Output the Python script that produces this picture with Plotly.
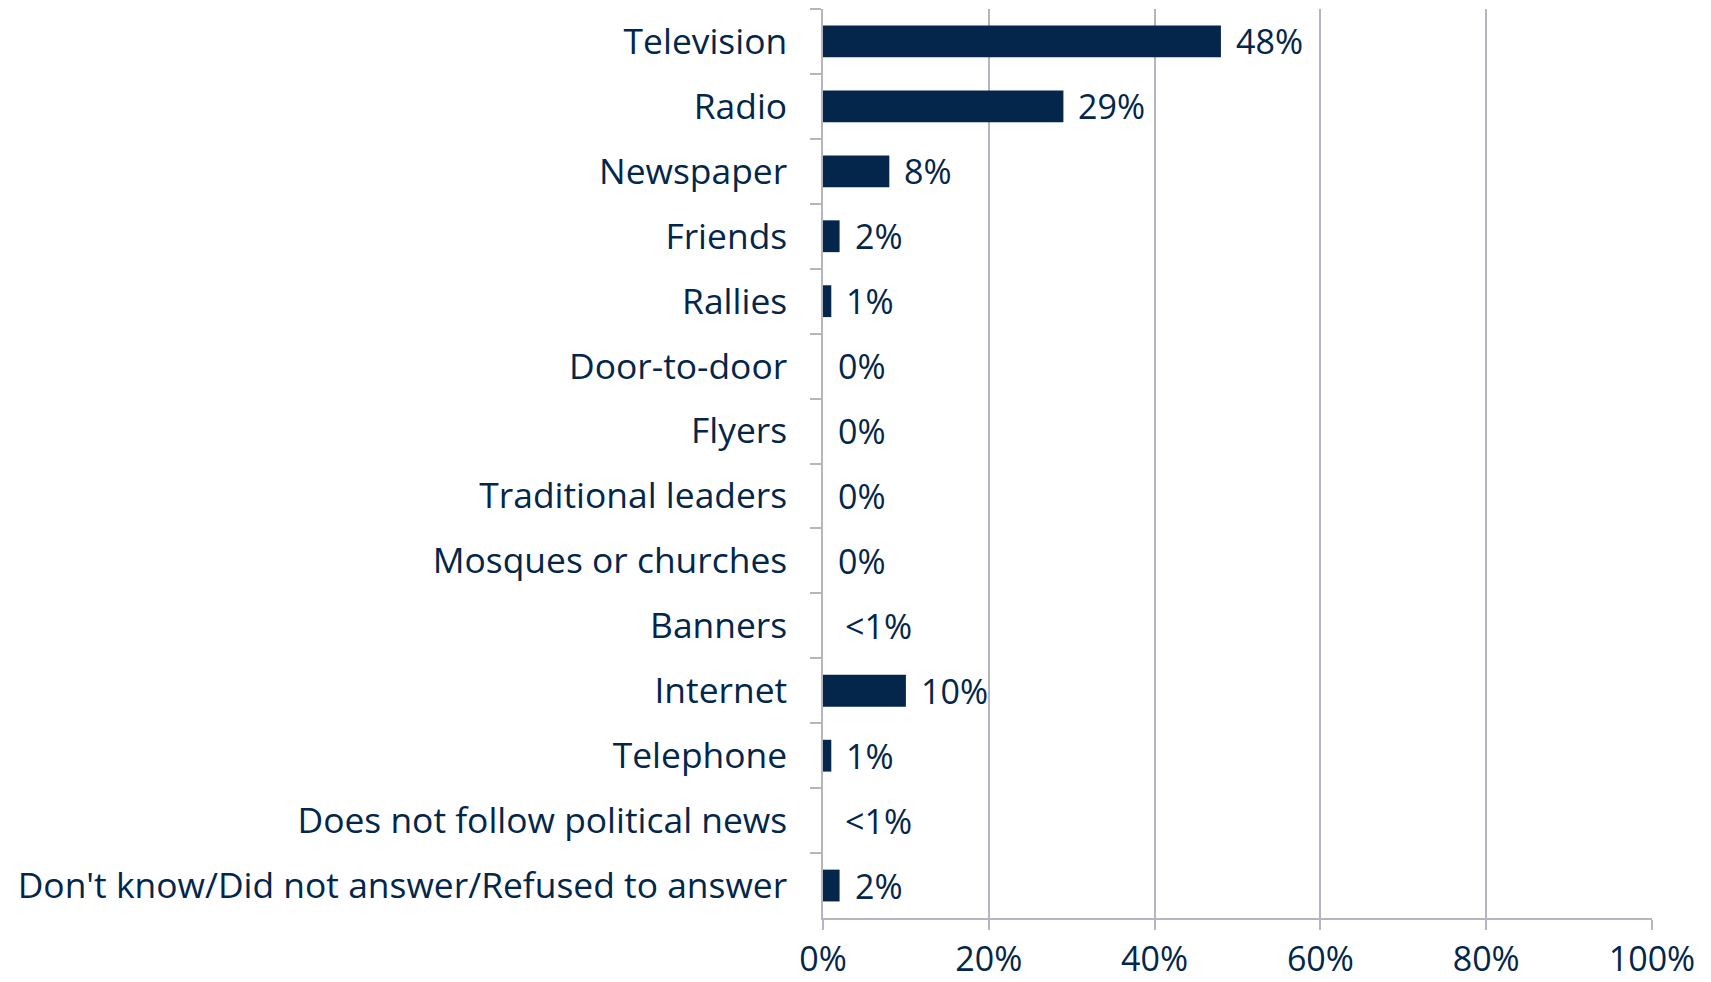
import plotly.graph_objects as go

categories = [
    "Television", "Radio", "Newspaper", "Friends", "Rallies", "Door-to-door",
    "Flyers", "Traditional leaders", "Mosques or churches", "Banners",
    "Internet", "Telephone", "Does not follow political news",
    "Don't know/Did not answer/Refused to answer",
]
values = [48, 29, 8, 2, 1, 0, 0, 0, 0, 0, 10, 1, 0, 2]
labels = ["48%", "29%", "8%", "2%", "1%", "0%", "0%", "0%", "0%", "<1%",
          "10%", "1%", "<1%", "2%"]
x_ticks = [0, 20, 40, 60, 80, 100]
x_tick_labels = ["0%", "20%", "40%", "60%", "80%", "100%"]

NAVY = "#03264a"
GRID = "#b4b5be"
FONT = "Open Sans"
SIZE = 34

fig = go.Figure(go.Bar(
    x=values, y=categories, orientation="h",
    marker=dict(color=NAVY, line=dict(width=0)),
    width=0.49, hoverinfo="skip",
))

# value labels sit just past the end of each bar
for cat, val, lab in zip(categories, values, labels):
    fig.add_annotation(
        x=val, y=cat, text=lab, showarrow=False, xanchor="left",
        xshift=13 if not lab.startswith("<") else 20,
        font=dict(family=FONT, size=SIZE, color=NAVY),
    )

# page body has an 8px margin, so the figure is 8px smaller than the window
fig.update_layout(
    width=1703, height=974,
    margin=dict(l=815, r=59, t=1, b=64),
    paper_bgcolor="white", plot_bgcolor="white",
    showlegend=False,
    font=dict(family=FONT, size=SIZE, color=NAVY),
)
fig.update_xaxes(
    range=[0, 100], tickvals=x_ticks, ticktext=x_tick_labels,
    showgrid=True, gridcolor=GRID, gridwidth=1.5,
    showline=True, linecolor=GRID, linewidth=2,
    ticks="outside", ticklen=10, tickcolor=GRID, tickwidth=1.5,
    zeroline=False, fixedrange=True, automargin=False,
)
fig.update_yaxes(
    categoryorder="array", categoryarray=categories, autorange="reversed",
    showline=True, linecolor=GRID, linewidth=1.5,
    ticks="outside", ticklen=11, tickcolor=GRID, tickwidth=1.5,
    tickson="boundaries", showgrid=False, ticklabelstandoff=27,
    tickfont=dict(size=35.4), fixedrange=True, automargin=False,
)

fig.write_html("out.html")
